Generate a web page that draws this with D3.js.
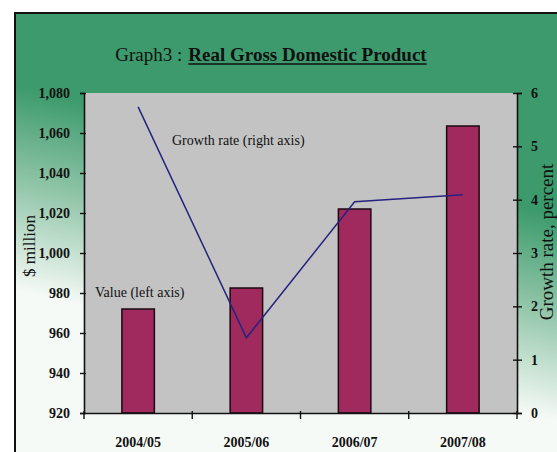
<!DOCTYPE html>
<html>
<head>
<meta charset="utf-8">
<script src="https://cdn.jsdelivr.net/npm/d3@7"></script>
<style>
  html, body { margin: 0; padding: 0; background: #fff; }
  svg { display: block; }
  text { font-family: "Liberation Serif", "Times New Roman", serif; fill: #111; }
</style>
</head>
<body>
<svg id="chart" width="557" height="452"></svg>
<script>
// Real GDP ($ million, left axis) and annual growth rate (percent, right axis)
const categories = ["2004/05", "2005/06", "2006/07", "2007/08"];
const gdpValues = [972, 982.5, 1022, 1063.5];
const growthRates = [5.74, 1.41, 3.96, 4.09];
const leftTicks = [920, 940, 960, 980, 1000, 1020, 1040, 1060, 1080];
const rightTicks = [0, 1, 2, 3, 4, 5, 6];

const svg = d3.select("#chart");
const W = 557, H = 452;
const plot = { left: 84, right: 517, top: 93, bottom: 413 };

// background panel with green-to-white gradient
const defs = svg.append("defs");
const grad = defs.append("linearGradient")
  .attr("id", "panelFill")
  .attr("gradientUnits", "userSpaceOnUse")
  .attr("x1", 287).attr("y1", 150)
  .attr("x2", 240).attr("y2", 345);
grad.append("stop").attr("offset", 0).attr("stop-color", "rgb(60,154,108)");
grad.append("stop").attr("offset", 0.5).attr("stop-color", "rgb(150,200,172)");
grad.append("stop").attr("offset", 1).attr("stop-color", "rgb(246,250,247)");

svg.append("rect").attr("x", 0).attr("y", 0).attr("width", W).attr("height", H).attr("fill", "#fff");
svg.append("rect")
  .attr("x", 15).attr("y", 13).attr("width", W - 15).attr("height", H - 13)
  .attr("fill", "url(#panelFill)");
svg.append("path")
  .attr("d", `M15,${H}V13H${W}`)
  .attr("fill", "none").attr("stroke", "#111").attr("stroke-width", 2);

// plot area
svg.append("rect")
  .attr("x", plot.left).attr("y", plot.top)
  .attr("width", plot.right - plot.left).attr("height", plot.bottom - plot.top)
  .attr("fill", "#c3c3c3");

// scales
const x = d3.scaleBand().domain(categories).range([plot.left, plot.right]).padding(0);
const yLeft = d3.scaleLinear().domain([920, 1080]).range([plot.bottom, plot.top]);
const yRight = d3.scaleLinear().domain([0, 6]).range([plot.bottom, plot.top]);

// bars
const bw = x.bandwidth();
svg.append("g").selectAll("rect")
  .data(categories)
  .join("rect")
  .attr("x", d => x(d) + bw * 0.35)
  .attr("width", bw * 0.3)
  .attr("y", (d, i) => yLeft(gdpValues[i]))
  .attr("height", (d, i) => plot.bottom - yLeft(gdpValues[i]))
  .attr("fill", "#a02a5e")
  .attr("stroke", "#1a0a10")
  .attr("stroke-width", 1.5);

// growth line
const line = d3.line()
  .x((d, i) => x(categories[i]) + bw / 2)
  .y(d => yRight(d));
svg.append("path")
  .datum(growthRates)
  .attr("d", line)
  .attr("fill", "none")
  .attr("stroke", "#24247e")
  .attr("stroke-width", 1.5);

// left axis
const gl = svg.append("g")
  .attr("transform", `translate(${plot.left},0)`)
  .call(d3.axisLeft(yLeft).tickValues(leftTicks).tickFormat(d3.format(",")).tickSize(4).tickPadding(10));
gl.select(".domain").attr("stroke", "#111").attr("stroke-width", 1.6);
gl.selectAll(".tick line").attr("x1", 2).attr("x2", -4).attr("stroke", "#111").attr("stroke-width", 1.4);
gl.selectAll(".tick text")
  .style("font-family", "'Liberation Serif', serif")
  .style("font-size", "14px").style("font-weight", "bold").attr("fill", "#111");

// right axis
const gr = svg.append("g")
  .attr("transform", `translate(${plot.right},0)`)
  .call(d3.axisRight(yRight).tickValues(rightTicks).tickFormat(d3.format("d")).tickSize(5).tickPadding(9));
gr.select(".domain").attr("stroke", "#111").attr("stroke-width", 1.6);
gr.selectAll(".tick line").attr("x1", -4).attr("x2", 5).attr("stroke", "#111").attr("stroke-width", 1.4);
gr.selectAll(".tick text")
  .style("font-family", "'Liberation Serif', serif")
  .style("font-size", "14px").style("font-weight", "bold").attr("fill", "#111");

// bottom axis with ticks between categories
const gb = svg.append("g")
  .attr("transform", `translate(0,${plot.bottom})`)
  .call(d3.axisBottom(x).tickSize(0).tickPadding(24));
gb.select(".domain").attr("stroke", "#111").attr("stroke-width", 1.6);
gb.selectAll(".tick text")
  .style("font-family", "'Liberation Serif', serif")
  .style("font-size", "14px").style("font-weight", "bold").attr("fill", "#111");
const boundaries = categories.map(c => x(c)).concat([x.range()[1]]);
gb.selectAll("line.sep")
  .data(boundaries)
  .join("line")
  .attr("class", "sep")
  .attr("x1", d => d).attr("x2", d => d)
  .attr("y1", -2).attr("y2", 6)
  .attr("stroke", "#111").attr("stroke-width", 1.4);

// axis titles
svg.append("text")
  .attr("transform", "translate(35,246) rotate(-90)")
  .attr("text-anchor", "middle")
  .style("font-size", "17px")
  .text("$ million");
svg.append("text")
  .attr("transform", "translate(553,242) rotate(-90)")
  .attr("text-anchor", "middle")
  .style("font-size", "19px")
  .text("Growth rate, percent");

// series annotations
svg.append("text")
  .attr("x", 172).attr("y", 145)
  .style("font-size", "14px")
  .text("Growth rate (right axis)");
svg.append("text")
  .attr("x", 95).attr("y", 297)
  .style("font-size", "14px")
  .text("Value (left axis)");

// title: plain prefix followed by bold underlined name
const titleY = 61, titleCenter = 271, titleGap = 6;
const t1 = svg.append("text").attr("y", titleY).style("font-size", "19px").text("Graph3 :");
const t2 = svg.append("text").attr("y", titleY).style("font-size", "19px").style("font-weight", "bold")
  .text("Real Gross Domestic Product");
const w1 = t1.node().getComputedTextLength();
const w2 = t2.node().getComputedTextLength();
const x0 = titleCenter - (w1 + titleGap + w2) / 2;
t1.attr("x", x0);
t2.attr("x", x0 + w1 + titleGap);
svg.append("line")
  .attr("x1", x0 + w1 + titleGap).attr("x2", x0 + w1 + titleGap + w2)
  .attr("y1", titleY + 3).attr("y2", titleY + 3)
  .attr("stroke", "#111").attr("stroke-width", 1.3);
</script>
</body>
</html>
